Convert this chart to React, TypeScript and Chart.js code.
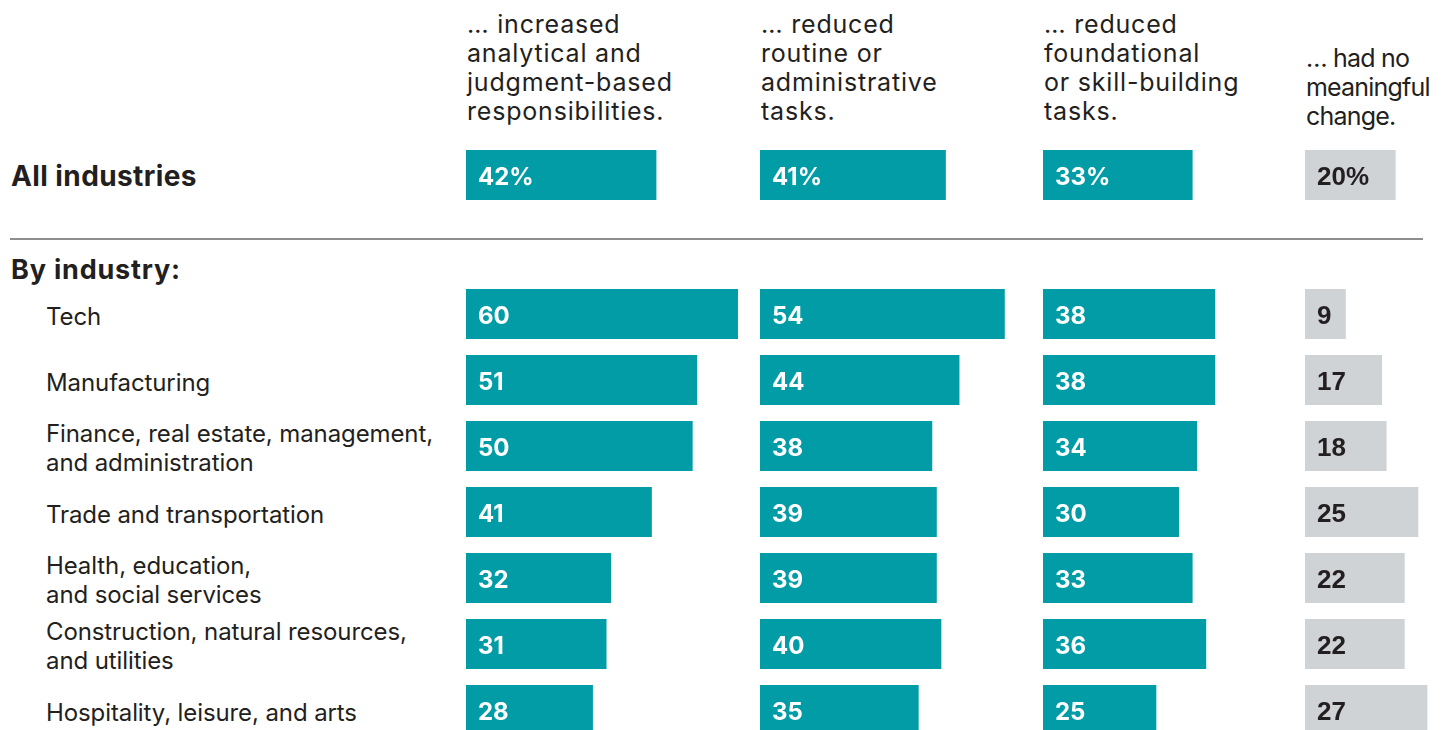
import React, { useEffect, useRef } from "react";
import { Chart, registerables } from "chart.js";

Chart.register(...registerables);

const COLUMN_TITLES: string[][] = [
  ["… increased", "analytical and", "judgment-based", "responsibilities."],
  ["… reduced", "routine or", "administrative", "tasks."],
  ["… reduced", "foundational", "or skill-building", "tasks."],
  ["… had no", "meaningful", "change."],
];

const INDUSTRIES: string[][] = [
  ["Tech"],
  ["Manufacturing"],
  ["Finance, real estate, management,", "and administration"],
  ["Trade and transportation"],
  ["Health, education,", "and social services"],
  ["Construction, natural resources,", "and utilities"],
  ["Hospitality, leisure, and arts"],
];

const ALL_INDUSTRIES: number[] = [42, 41, 33, 20];

const INCREASED_ANALYTICAL: number[] = [60, 51, 50, 41, 32, 31, 28];
const REDUCED_ROUTINE: number[] = [54, 44, 38, 39, 39, 40, 35];
const REDUCED_FOUNDATIONAL: number[] = [38, 38, 34, 30, 33, 36, 25];
const NO_CHANGE: number[] = [9, 17, 18, 25, 22, 22, 27];

const TEAL = "#019CA6";
const GREY = "#D0D3D6";
const INK = "#231F20";
const PX_PER_UNIT = 4.533;
const FONT = "Inter, 'DejaVu Sans', sans-serif";

type BarsProps = {
  values: number[];
  labels: string[];
  color: string;
  textColor: string;
  textFont: string;
  suffix: string;
  left: number;
  top: number;
  width: number;
  height: number;
};

function Bars(props: BarsProps) {
  const ref = useRef<HTMLCanvasElement | null>(null);
  useEffect(() => {
    if (!ref.current) return;
    const { values, labels, color, textColor, textFont, suffix } = props;
    const labelPlugin = {
      id: "barLabels",
      afterDatasetsDraw(chart: any) {
        const ctx = chart.ctx;
        const meta = chart.getDatasetMeta(0);
        ctx.save();
        ctx.fillStyle = textColor;
        ctx.font = textFont;
        ctx.textAlign = "left";
        ctx.textBaseline = "middle";
        meta.data.forEach((bar: any, i: number) => {
          ctx.fillText(String(values[i]) + suffix, bar.base + 12, bar.y + 3);
        });
        ctx.restore();
      },
    };
    const chart = new Chart(ref.current, {
      type: "bar",
      data: {
        labels,
        datasets: [
          {
            data: values,
            backgroundColor: color,
            borderWidth: 0,
            barPercentage: 0.755,
            categoryPercentage: 1,
          },
        ],
      },
      options: {
        indexAxis: "y",
        animation: false,
        responsive: false,
        maintainAspectRatio: false,
        layout: { padding: 0 },
        plugins: { legend: { display: false }, tooltip: { enabled: false } },
        scales: {
          x: { display: false, min: 0, max: props.width / PX_PER_UNIT },
          y: { display: false, offset: true },
        },
      },
      plugins: [labelPlugin],
    });
    return () => chart.destroy();
  }, []);
  return (
    <canvas
      ref={ref}
      width={props.width}
      height={props.height}
      style={{ position: "absolute", left: props.left, top: props.top, width: props.width, height: props.height }}
    />
  );
}

const COL_LEFT = [466, 760, 1043, 1305];
const COL_WIDTH = [290, 280, 260, 142];
const HEADER_TOP = [7, 7, 7, 12];
const ROW_PITCH = 66;
const IND_TOP = 281;
const TEAL_LABEL_FONT = "bold 24px " + FONT;
const GREY_LABEL_FONT = "bold 26px 'Liberation Sans', Arial, sans-serif";

export default function App() {
  useEffect(() => {
    document.body.style.margin = "0";
    document.documentElement.style.overflow = "hidden";
  }, []);
  const industryNames = INDUSTRIES.map((l) => l.join(" "));
  const cols = [INCREASED_ANALYTICAL, REDUCED_ROUTINE, REDUCED_FOUNDATIONAL, NO_CHANGE];
  return (
    <div
      style={{
        position: "fixed",
        left: 0,
        top: 0,
        width: 1447,
        height: 730,
        overflow: "hidden",
        background: "#fff",
        fontFamily: FONT,
        color: INK,
      }}
    >
      {COLUMN_TITLES.map((lines, c) => (
        <div
          key={"h" + c}
          style={{
            position: "absolute",
            left: COL_LEFT[c] + 1,
            top: HEADER_TOP[c],
            height: 119,
            display: "flex",
            flexDirection: "column",
            justifyContent: "flex-end",
            fontSize: 25,
            lineHeight: "29px",
            letterSpacing: c === 3 ? -0.8 : 0.8,
            whiteSpace: "nowrap",
          }}
        >
          {lines.map((t, i) => (
            <div key={i}>{t}</div>
          ))}
        </div>
      ))}
      <div
        style={{
          position: "absolute",
          left: 11,
          top: 158,
          fontSize: 28,
          fontWeight: 700,
          letterSpacing: 0.4,
          lineHeight: "36px",
        }}
      >
        All industries
      </div>
      <div style={{ position: "absolute", left: 10, top: 238, width: 1413, height: 2, background: "#8E8E8E" }} />
      <div
        style={{
          position: "absolute",
          left: 11,
          top: 253,
          fontSize: 27,
          fontWeight: 700,
          letterSpacing: 0.8,
          lineHeight: "34px",
        }}
      >
        By industry:
      </div>
      {INDUSTRIES.map((lines, r) => (
        <div
          key={"l" + r}
          style={{
            position: "absolute",
            left: 46,
            top: IND_TOP + 2 + r * ROW_PITCH,
            height: ROW_PITCH,
            display: "flex",
            flexDirection: "column",
            justifyContent: "center",
            fontSize: 24,
            lineHeight: "29px",
            letterSpacing: -0.1,
            whiteSpace: "nowrap",
          }}
        >
          {lines.map((t, i) => (
            <div key={i}>{t}</div>
          ))}
        </div>
      ))}
      {ALL_INDUSTRIES.map((v, c) => (
        <Bars
          key={"a" + c}
          values={[v]}
          labels={["All industries"]}
          color={c === 3 ? GREY : TEAL}
          textColor={c === 3 ? INK : "#ffffff"}
          textFont={c === 3 ? GREY_LABEL_FONT : TEAL_LABEL_FONT}
          suffix="%"
          left={COL_LEFT[c]}
          top={142}
          width={COL_WIDTH[c]}
          height={ROW_PITCH}
        />
      ))}
      {cols.map((vals, c) => (
        <Bars
          key={"c" + c}
          values={vals}
          labels={industryNames}
          color={c === 3 ? GREY : TEAL}
          textColor={c === 3 ? INK : "#ffffff"}
          textFont={c === 3 ? GREY_LABEL_FONT : TEAL_LABEL_FONT}
          suffix=""
          left={COL_LEFT[c]}
          top={IND_TOP}
          width={COL_WIDTH[c]}
          height={ROW_PITCH * INDUSTRIES.length}
        />
      ))}
    </div>
  );
}
